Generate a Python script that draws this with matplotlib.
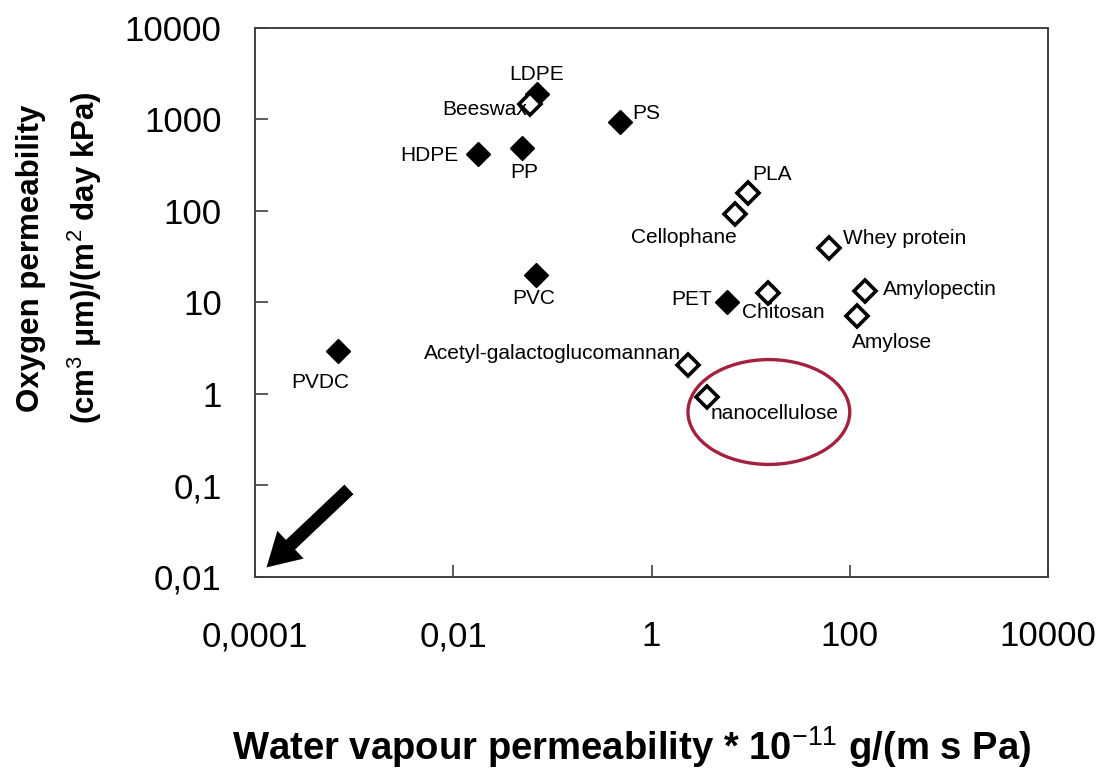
import matplotlib.pyplot as plt
from matplotlib.patches import Ellipse

plt.rcParams['font.family'] = ['Liberation Sans', 'DejaVu Sans']
plt.rcParams['mathtext.fontset'] = 'custom'
plt.rcParams['mathtext.rm'] = 'Liberation Sans'
plt.rcParams['mathtext.bf'] = 'Liberation Sans:bold'

# synthetic polymers (filled diamonds)
syn_names = ["PVDC", "HDPE", "PP", "LDPE", "PS", "PVC", "PET"]
syn_wvp = [0.00069, 0.0178, 0.049, 0.07, 0.48, 0.069, 5.8]
syn_o2 = [2.95, 420, 490, 1900, 940, 20, 10]

# bio-based materials (open diamonds)
bio_names = ["Beeswax", "PLA", "Cellophane", "Whey protein", "Chitosan",
             "Amylopectin", "Amylose", "Acetyl-galactoglucomannan", "nanocellulose"]
bio_wvp = [0.06, 9.4, 7.0, 62, 15, 143, 119, 2.35, 3.6]
bio_o2 = [1480, 158, 93, 39, 12.7, 13.3, 7.1, 2.1, 0.93]

xticks = [1e-4, 1e-2, 1, 1e2, 1e4]
xticklabels = ["0,0001", "0,01", "1", "100", "10000"]
yticks = [1e-2, 1e-1, 1, 10, 100, 1000, 10000]
yticklabels = ["0,01", "0,1", "1", "10", "100", "1000", "10000"]

# label offsets in points and alignment
offsets = {
    "LDPE": (0, 14, "center"), "Beeswax": (-2, -4, "right"),
    "HDPE": (-14, -1, "right"), "PP": (2, -18, "center"),
    "PS": (9, 6, "left"), "PLA": (3, 13, "left"),
    "Cellophane": (1, -17, "right"), "Whey protein": (10, 7, "left"),
    "PVC": (-2, -17, "center"), "PET": (-11, 2, "right"),
    "Chitosan": (-19, -14, "left"), "Amylopectin": (13, 1, "left"),
    "Amylose": (-4, -19, "left"), "Acetyl-galactoglucomannan": (-5, 8, "right"),
    "nanocellulose": (3, -12, "left"), "PVDC": (-13, -23, "center"),
}

fig = plt.figure(figsize=(11.02, 7.75), dpi=100)
ax = fig.add_axes([0.2314, 0.2555, 0.7196, 0.7084])
ax.set_xscale('log')
ax.set_yscale('log')
ax.set_xlim(1e-4, 1e4)
ax.set_ylim(1e-2, 1e4)

ax.plot(syn_wvp, syn_o2, 'D', ms=12.5, color='black', mec='black', ls='none')
ax.plot(bio_wvp, bio_o2, 'D', ms=11.5, mfc='white', mec='black', mew=2.6, ls='none')

for names, xs, ys in [(syn_names, syn_wvp, syn_o2), (bio_names, bio_wvp, bio_o2)]:
    for n, x, y in zip(names, xs, ys):
        dx, dy, ha = offsets[n]
        ax.annotate(n, (x, y), xytext=(dx, dy), textcoords='offset points',
                    ha=ha, va='center', fontsize=15, color='black')

# circle around nanocellulose
ax.add_patch(Ellipse((0.648, 0.3005), 0.204, 0.191, transform=ax.transAxes,
                     fill=False, ec='#a3213f', lw=2.4))

# arrow towards the lower left corner
ax.annotate('', xy=(0.012, 0.014), xytext=(0.121, 0.163), xycoords='axes fraction',
            arrowprops=dict(arrowstyle="simple,head_length=0.95,head_width=1.1,tail_width=0.38",
                            mutation_scale=25, color='black', lw=0))

ax.set_xticks(xticks)
ax.set_xticklabels(xticklabels)
ax.set_yticks(yticks)
ax.set_yticklabels(yticklabels)
ax.minorticks_off()
ax.tick_params(direction='in', length=9, width=1.2, color='#404040', labelsize=25)
ax.tick_params(axis='x', pad=31)
ax.tick_params(axis='y', pad=24)
for s in ax.spines.values():
    s.set_color('#404040')
    s.set_linewidth(1.4)

fig.text(0.028, 0.667, "Oxygen permeability", rotation=90, ha='center', va='center',
         fontsize=22.5, fontweight='bold')
fig.text(0.077, 0.667, r"(cm$^{3}$ $\mathbf{\mu}$m)/(m$^{2}$ day kPa)", rotation=90,
         ha='center', va='center', fontsize=22.5, fontweight='bold')
fig.text(0.573, 0.0194, r"Water vapour permeability * 10$^{-11}$ g/(m s Pa)",
         ha='center', va='baseline', fontsize=27.5, fontweight='bold')

fig.savefig('out.png', dpi=100)
